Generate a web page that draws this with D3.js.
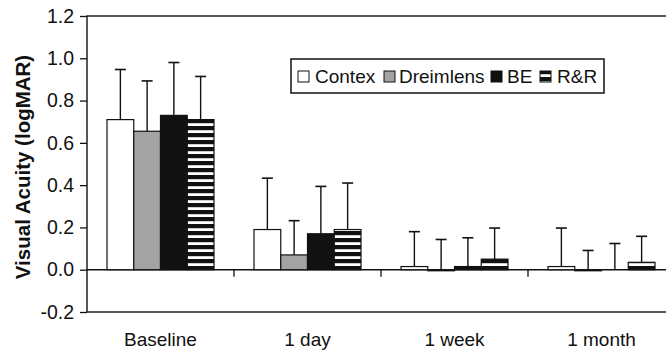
<!DOCTYPE html>
<html>
<head>
<meta charset="utf-8">
<script src="https://cdn.jsdelivr.net/npm/d3@7"></script>
<style>
  html, body { margin: 0; padding: 0; background: #fff; }
  svg { display: block; }
  text { font-family: Arial, "Liberation Sans", sans-serif; fill: #111; }
</style>
</head>
<body>
<svg id="chart" width="666" height="350"></svg>
<script>
const categories = ["Baseline", "1 day", "1 week", "1 month"];
const seriesNames = ["Contex", "Dreimlens", "BE", "R&R"];
const contex = [0.71, 0.19, 0.015, 0.015];
const contexErr = [0.237, 0.243, 0.165, 0.182];
const dreimlens = [0.655, 0.07, -0.005, -0.005];
const dreimlensErr = [0.238, 0.162, 0.148, 0.096];
const be = [0.73, 0.17, 0.015, 0.0];
const beErr = [0.25, 0.224, 0.136, 0.124];
const rr = [0.71, 0.19, 0.05, 0.035];
const rrErr = [0.204, 0.22, 0.147, 0.123];
const yTicks = [-0.2, 0.0, 0.2, 0.4, 0.6, 0.8, 1.0, 1.2];
const yTitle = "Visual Acuity (logMAR)";

const values = [contex, dreimlens, be, rr];
const errors = [contexErr, dreimlensErr, beErr, rrErr];

const svg = d3.select("#chart");
const pLeft = 87, pTop = 16, pBottom = 312, pRight = 675;

const defs = svg.append("defs");
const pat = defs.append("pattern").attr("id", "stripes")
  .attr("patternUnits", "userSpaceOnUse").attr("width", 8).attr("height", 7);
pat.append("rect").attr("width", 8).attr("height", 7).attr("fill", "#fff");
pat.append("rect").attr("width", 8).attr("height", 4.2).attr("fill", "#111");

const fills = ["#ffffff", "#a3a3a3", "#111111", "url(#stripes)"];

const y = d3.scaleLinear().domain([-0.2, 1.2]).range([pBottom, pTop]);
const x0 = d3.scaleBand().domain(categories).range([pLeft, pRight]);
const x1 = d3.scaleBand().domain(seriesNames).range([20, x0.bandwidth() - 20]);

// frame
svg.append("rect").attr("x", pLeft).attr("y", pTop)
  .attr("width", pRight - pLeft).attr("height", pBottom - pTop)
  .attr("fill", "none").attr("stroke", "#111").attr("stroke-width", 1.4);

// y axis
const yAxis = d3.axisLeft(y).tickValues(yTicks).tickSize(7).tickPadding(6)
  .tickFormat(d => d3.format(".1f")(d).replace("−", "-"));
const gy = svg.append("g").attr("transform", `translate(${pLeft},0)`).call(yAxis);
gy.select(".domain").remove();
gy.selectAll(".tick line").attr("stroke", "#111").attr("stroke-width", 1.3);
gy.selectAll(".tick text").style("font-size", "19.5px").style("font-family", "Arial, 'Liberation Sans', sans-serif").attr("fill", "#111");

// zero line
svg.append("line").attr("x1", pLeft).attr("x2", pRight)
  .attr("y1", y(0)).attr("y2", y(0)).attr("stroke", "#111").attr("stroke-width", 1.4);

// category ticks
svg.selectAll(".ctick").data(categories.slice(1)).enter().append("line")
  .attr("x1", d => x0(d)).attr("x2", d => x0(d))
  .attr("y1", y(0)).attr("y2", y(0) + 7)
  .attr("stroke", "#111").attr("stroke-width", 1.3);

// category labels
svg.selectAll(".clabel").data(categories).enter().append("text")
  .attr("x", d => x0(d) + x0.bandwidth() / 2).attr("y", 346)
  .attr("text-anchor", "middle").style("font-size", "19px").text(d => d);

// bars
const rows = [];
categories.forEach((c, i) => seriesNames.forEach((s, j) => {
  rows.push({ c, s, j, v: values[j][i], e: errors[j][i] });
}));

const g = svg.append("g");
g.selectAll(".bar").data(rows).enter().append("rect")
  .attr("x", d => x0(d.c) + x1(d.s))
  .attr("width", x1.bandwidth())
  .attr("y", d => y(Math.max(0, d.v)))
  .attr("height", d => Math.abs(y(d.v) - y(0)))
  .attr("fill", d => fills[d.j])
  .attr("stroke", "#111").attr("stroke-width", 1.2);

// error bars
g.selectAll(".err").data(rows).enter().append("line")
  .attr("x1", d => x0(d.c) + x1(d.s) + x1.bandwidth() / 2)
  .attr("x2", d => x0(d.c) + x1(d.s) + x1.bandwidth() / 2)
  .attr("y1", d => y(d.v)).attr("y2", d => y(d.v + d.e))
  .attr("stroke", "#111").attr("stroke-width", 1.4);
g.selectAll(".cap").data(rows).enter().append("line")
  .attr("x1", d => x0(d.c) + x1(d.s) + x1.bandwidth() / 2 - 5.5)
  .attr("x2", d => x0(d.c) + x1(d.s) + x1.bandwidth() / 2 + 5.5)
  .attr("y1", d => y(d.v + d.e)).attr("y2", d => y(d.v + d.e))
  .attr("stroke", "#111").attr("stroke-width", 1.6);

// y title
svg.append("text").attr("transform", "translate(30,167) rotate(-90)")
  .attr("text-anchor", "middle").style("font-size", "20.5px").style("font-weight", "bold")
  .text(yTitle);

// legend
const lg = svg.append("g");
lg.append("rect").attr("x", 291).attr("y", 59).attr("width", 313).attr("height", 34)
  .attr("fill", "#fff").attr("stroke", "#111").attr("stroke-width", 1.5);
const swX = [298, 384, 491, 540];
const txX = [315, 399, 507, 557];
seriesNames.forEach((s, j) => {
  lg.append("rect").attr("x", swX[j]).attr("y", 71).attr("width", 11).attr("height", 11)
    .attr("fill", fills[j]).attr("stroke", "#111").attr("stroke-width", 1);
  lg.append("text").attr("x", txX[j]).attr("y", 83).style("font-size", "19px").text(s);
});
</script>
</body>
</html>
